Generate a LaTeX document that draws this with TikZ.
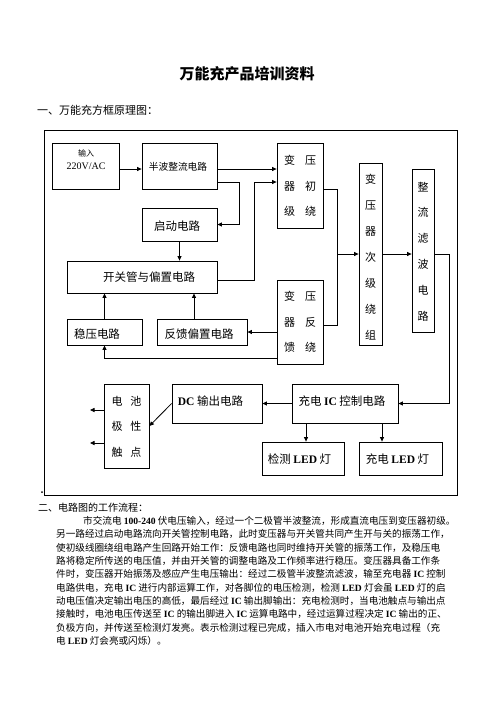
\documentclass[tikz,border=0pt]{standalone}
\usepackage{fontspec}
\setmainfont{Liberation Serif}
\newfontfamily\cjk{Noto Sans CJK SC}
\usetikzlibrary{arrows.meta}
\XeTeXlinebreaklocale "zh"
\XeTeXlinebreakskip=0pt plus 3pt
\newcommand\latn[1]{{\rmfamily\bfseries #1}}
\begin{document}
\begin{tikzpicture}[x=1pt,y=-1pt,
 box/.style={draw, line width=0.8pt, inner sep=0pt},
 con/.style={line width=0.8pt},
 arr/.style={con, -{Triangle[length=4.5pt,width=4pt]}},
 bt/.style={inner sep=0pt, font=\fontsize{11.5}{12}\selectfont\cjk},
 vt/.style={inner sep=0pt, align=center, font=\fontsize{11}{25.5}\selectfont\cjk},
 pl/.style={anchor=west, inner sep=0pt, text width=401pt, align=justify, font=\fontsize{9.6}{13}\selectfont\cjk},
]
\useasboundingbox (0,0) rectangle (496,702);
\node[inner sep=0pt, font=\fontsize{15}{15}\selectfont\cjk\bfseries] (title) at (247,74) {万能充产品培训资料};
\node[anchor=west, inner sep=0pt, font=\fontsize{11}{11}\selectfont\cjk] (s1) at (37,110) {一、万能充方框原理图：};
\node[box, minimum width=413, minimum height=365, anchor=north west] (frame) at (44,130) {};

% boxes
\node[box, minimum width=67, minimum height=46] (inp) at (85.5,166) {};
\node[inner sep=0pt, font=\fontsize{8}{8}\selectfont\cjk] (inpt) at (86,153) {输入};
\node[inner sep=0pt, font=\fontsize{10}{10}\selectfont] (inpv) at (86,166.5) {220V/AC};
\node[box, minimum width=75, minimum height=46] (hb) at (179.5,166) {};
\node[inner sep=0pt, font=\fontsize{9.7}{10}\selectfont\cjk] (hbt) at (178,167) {半波整流电路};
\node[box, minimum width=75, minimum height=33] (qd) at (179.5,224.5) {};
\node[bt] (qdt) at (177,226) {启动电路};
\node[box, minimum width=150, minimum height=32] (kg) at (142,277) {};
\node[bt] (kgt) at (149,277) {开关管与偏置电路};
\node[box, minimum width=75, minimum height=26] (wy) at (104.5,332) {};
\node[bt] (wyt) at (97,334) {稳压电路};
\node[box, minimum width=90, minimum height=26] (fk) at (202,332) {};
\node[bt] (fkt) at (199,334) {反馈偏置电路};
\node[box, minimum width=46, minimum height=85] (tp) at (300,185.5) {};
\node[vt] (tpt) at (300,186) {变\hspace{10pt}压\\器\hspace{10pt}初\\级\hspace{10pt}绕};
\node[box, minimum width=46, minimum height=84] (tf) at (300,322) {};
\node[vt] (tft) at (300,322) {变\hspace{10pt}压\\器\hspace{10pt}反\\馈\hspace{10pt}绕};
\node[box, minimum width=23, minimum height=182] (ts) at (370.5,254) {};
\node[vt, font=\fontsize{11}{26}\selectfont\cjk] (tst) at (370.5,257) {变\\压\\器\\次\\级\\绕\\组};
\node[box, minimum width=22, minimum height=163] (zl) at (423,250.5) {};
\node[vt, font=\fontsize{11}{25.8}\selectfont\cjk] (zlt) at (423,251.5) {整\\流\\滤\\波\\电\\路};
\node[box, minimum width=106, minimum height=39] (ic) at (345,403.5) {};
\node[bt] (ict) at (342,401) {充电 \latn{IC} 控制电路};
\node[box, minimum width=90, minimum height=39] (dc) at (217,403.5) {};
\node[bt] (dct) at (210.5,401) {\latn{DC} 输出电路};
\node[box, minimum width=45, minimum height=84] (bat) at (126.5,426) {};
\node[vt] (batt) at (126.5,426.5) {电\hspace{8pt}池\\极\hspace{8pt}性\\触\hspace{8pt}点};
\node[box, minimum width=82, minimum height=33] (jc) at (303,458.5) {};
\node[bt] (jct) at (299.5,459) {检测 \latn{LED} 灯};
\node[box, minimum width=83, minimum height=33] (cd) at (400.5,458.5) {};
\node[bt] (cdt) at (397.5,459) {充电 \latn{LED} 灯};

% connectors
\draw[arr] (inp.east |- 0,169) -- (hb.west |- 0,169);
\draw[arr] (hb.east |- 0,169) -- (tp.west |- 0,169);
\draw[arr] (hb.east |- 0,182) -- (239,182) |- (qd.east);
\draw[arr] (qd.south) -- (qd.south |- kg.north);
\draw[arr] (kg.east |- 0,280) -- (254,280) |- (tp.west |- 0,182);
\draw[arr] (wy.north) -- (wy.north |- kg.south);
\draw[arr] (fk.north -| 194,0) -- (kg.south -| 194,0);
\draw[arr] (tf.west |- 0,332) -- (fk.east);
\draw[arr] (tf.west |- 0,358) -| (wy.south);
\draw[con] (tp.east |- 0,189) -| (337,325) -- (tf.east |- 0,325);
\coordinate (jn) at (337,254);
\draw[arr] (jn) -- (ts.west);
\draw[arr] (ts.east) -- (zl.west |- ts.east);
\draw[arr] (zl.east |- ts.east) -- (449,254) |- (ic.east);
\draw[arr] (ic.west) -- (dc.east);
\draw[arr] (dc.west) -- (bat.east);
\coordinate (o1) at (90,410);
\coordinate (o2) at (90,443);
\draw[arr] (bat.west |- o1) -- (o1);
\draw[arr] (bat.west |- o2) -- (o2);
\draw[arr] (ic.south -| 306,0) -- (jc.north -| 306,0);
\draw[arr] (ic.south -| 382,0) -- (cd.north -| 382,0);
\fill (42,492) circle (1pt);

% text
\node[anchor=west, inner sep=0pt, font=\fontsize{10}{10}\selectfont\cjk] (s2) at (38,508) {二、电路图的工作流程：};
\node[pl, text width=374pt] (p1) at (83,521) {\parfillskip=0pt 市交流电 \latn{100-240} 伏电压输入，经过一个二极管半波整流，形成直流电压到变压器初级。};
\node[pl] (p2) at (56,534.3) {\parfillskip=0pt 另一路经过启动电路流向开关管控制电路，此时变压器与开关管共同产生开与关的振荡工作，};
\node[pl] (p3) at (56,547.6) {\parfillskip=0pt 使初级线圈绕组电路产生回路开始工作：反馈电路也同时维持开关管的振荡工作，及稳压电};
\node[pl] (p4) at (56,560.9) {\parfillskip=0pt 路将稳定所传送的电压值，并由开关管的调整电路及工作频率进行稳压。变压器具备工作条};
\node[pl] (p5) at (56,574.2) {\parfillskip=0pt 件时，变压器开始振荡及感应产生电压输出：经过二极管半波整流滤波，输至充电器 \latn{IC} 控制};
\node[pl] (p6) at (56,587.5) {\parfillskip=0pt 电路供电，充电 \latn{IC} 进行内部运算工作，对各脚位的电压检测，检测 \latn{LED} 灯会虽 \latn{LED} 灯的启};
\node[pl] (p7) at (56,600.8) {\parfillskip=0pt 动电压值决定输出电压的高低，最后经过 \latn{IC} 输出脚输出：充电检测时，当电池触点与输出点};
\node[pl] (p8) at (56,614.1) {\parfillskip=0pt 接触时，电池电压传送至 \latn{IC} 的输出脚进入 \latn{IC} 运算电路中，经过运算过程决定 \latn{IC} 输出的正、};
\node[pl] (p9) at (56,627.4) {\parfillskip=0pt 负极方向，并传送至检测灯发亮。表示检测过程已完成，插入市电对电池开始充电过程（充};
\node[anchor=west, inner sep=0pt, font=\fontsize{9.6}{13}\selectfont\cjk] (p10) at (56,640.7) {电 \latn{LED} 灯会亮或闪烁）。};
\end{tikzpicture}
\end{document}
